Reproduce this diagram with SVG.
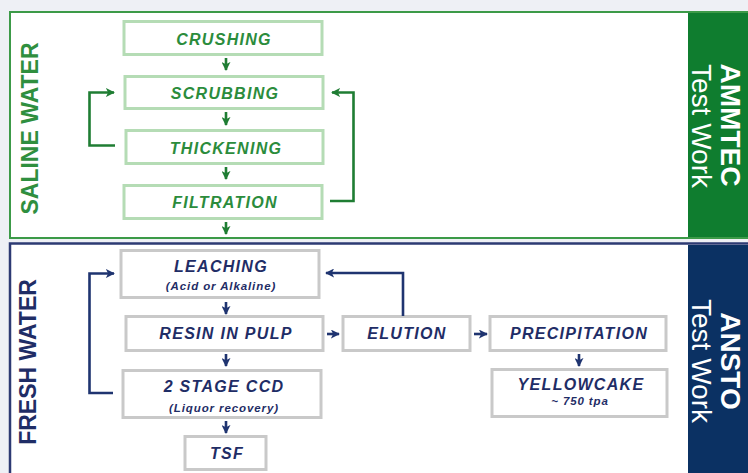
<svg xmlns="http://www.w3.org/2000/svg" width="748" height="473" viewBox="0 0 748 473">
<style>
  text { font-family: "Liberation Sans", Arial, sans-serif; }
  .box-g { fill: #ffffff; stroke: #b5dcb5; stroke-width: 3; }
  .box-n { fill: #ffffff; stroke: #c9c9c9; stroke-width: 3; }
  .t-g { fill: #2b8c3c; font-size: 16px; font-weight: bold; font-style: italic; letter-spacing: 1.3px; text-anchor: middle; }
  .t-n { fill: #1f2d66; font-size: 16px; font-weight: bold; font-style: italic; letter-spacing: 1.3px; text-anchor: middle; }
  .s-n { fill: #1f2d66; font-size: 11.5px; font-weight: bold; font-style: italic; letter-spacing: 0.9px; text-anchor: middle; }
  .side { font-size: 23px; font-weight: bold; text-anchor: middle; }
  .band { fill: #ffffff; font-size: 28px; text-anchor: middle; }
  .c-g { fill: none; stroke: #1f7d33; stroke-width: 2.6; }
  .c-n { fill: none; stroke: #1f3470; stroke-width: 2.6; }
</style>
<defs>
  <marker id="ag" viewBox="0 0 10 10" refX="9" refY="5" markerWidth="9" markerHeight="9" markerUnits="userSpaceOnUse" orient="auto">
    <path d="M0,0 L10,5 L0,10 L2.5,5 z" fill="#1f7d33"/>
  </marker>
  <marker id="an" viewBox="0 0 10 10" refX="9" refY="5" markerWidth="9" markerHeight="9" markerUnits="userSpaceOnUse" orient="auto">
    <path d="M0,0 L10,5 L0,10 L2.5,5 z" fill="#1f3470"/>
  </marker>
</defs>

<rect x="0" y="0" width="748" height="473" fill="#eef0f5"/>

<!-- Top panel -->
<g id="panel-saline">
  <rect x="10" y="12" width="740" height="226" fill="#ffffff" stroke="#3c9a48" stroke-width="2"/>
  <rect x="688" y="13" width="60" height="224" fill="#0f7d2f"/>
  <text class="side" fill="#2f8f3f" transform="translate(38,128.5) rotate(-90)">SALINE WATER</text>
  <text class="band" transform="translate(721,125) rotate(90)" font-weight="bold">AMMTEC</text>
  <text class="band" transform="translate(692,126) rotate(90)">Test Work</text>
</g>

<!-- Bottom panel -->
<g id="panel-fresh">
  <rect x="10" y="243.5" width="740" height="235" fill="#ffffff" stroke="#2d3a73" stroke-width="2.5"/>
  <rect x="688" y="245" width="60" height="228" fill="#0b3163"/>
  <text class="side" fill="#1f2d66" transform="translate(36,362) rotate(-90)">FRESH WATER</text>
  <text class="band" transform="translate(721,361) rotate(90)" font-weight="bold">ANSTO</text>
  <text class="band" transform="translate(692,361) rotate(90)">Test Work</text>
</g>

<!-- Top nodes -->
<g id="crushing">
  <rect class="box-g" x="124" y="21.5" width="198" height="33"/>
  <text class="t-g" x="224" y="44.5">CRUSHING</text>
</g>
<g id="scrubbing">
  <rect class="box-g" x="125" y="76.5" width="198" height="32"/>
  <text class="t-g" x="225" y="99">SCRUBBING</text>
</g>
<g id="thickening">
  <rect class="box-g" x="126" y="130.5" width="197" height="33"/>
  <text class="t-g" x="226" y="154">THICKENING</text>
</g>
<g id="filtration">
  <rect class="box-g" x="124" y="185.5" width="198" height="33"/>
  <text class="t-g" x="225" y="208">FILTRATION</text>
</g>

<!-- Bottom nodes -->
<g id="leaching">
  <rect class="box-n" x="121" y="250.5" width="198" height="47"/>
  <text class="t-n" x="221" y="271.5">LEACHING</text>
  <text class="s-n" x="221" y="290">(Acid or Alkaline)</text>
</g>
<g id="resin-in-pulp">
  <rect class="box-n" x="126" y="316.5" width="197" height="34"/>
  <text class="t-n" x="226" y="339">RESIN IN PULP</text>
</g>
<g id="elution">
  <rect class="box-n" x="343" y="316.5" width="127" height="34"/>
  <text class="t-n" x="407" y="339">ELUTION</text>
</g>
<g id="precipitation">
  <rect class="box-n" x="490" y="316.5" width="176" height="34"/>
  <text class="t-n" x="579" y="339">PRECIPITATION</text>
</g>
<g id="yellowcake">
  <rect class="box-n" x="492" y="369.5" width="175" height="47"/>
  <text class="t-n" x="581" y="390">YELLOWCAKE</text>
  <text class="s-n" x="580" y="405">~ 750 tpa</text>
</g>
<g id="two-stage-ccd">
  <rect class="box-n" x="123" y="370.5" width="198" height="47"/>
  <text class="t-n" x="224" y="392">2 STAGE CCD</text>
  <text class="s-n" x="224" y="412">(Liquor recovery)</text>
</g>
<g id="tsf">
  <rect class="box-n" x="185" y="436.5" width="81" height="33"/>
  <text class="t-n" x="227" y="459">TSF</text>
</g>

<!-- Connectors -->
<g id="connectors">
  <line class="c-g" x1="226" y1="58" x2="226" y2="70" marker-end="url(#ag)"/>
  <line class="c-g" x1="226" y1="112" x2="226" y2="125" marker-end="url(#ag)"/>
  <line class="c-g" x1="226" y1="167" x2="226" y2="179" marker-end="url(#ag)"/>
  <line class="c-g" x1="226" y1="222" x2="226" y2="234" marker-end="url(#ag)"/>
  <path class="c-g" d="M115,145.5 H89.5 V92.5 H114" marker-end="url(#ag)"/>
  <path class="c-g" d="M330,201 H353.5 V92.5 H332" marker-end="url(#ag)"/>

  <line class="c-n" x1="226" y1="302" x2="226" y2="314" marker-end="url(#an)"/>
  <line class="c-n" x1="226" y1="354" x2="226" y2="366" marker-end="url(#an)"/>
  <line class="c-n" x1="226" y1="421" x2="226" y2="433" marker-end="url(#an)"/>
  <line class="c-n" x1="327" y1="334" x2="339" y2="334" marker-end="url(#an)"/>
  <line class="c-n" x1="474" y1="334" x2="487" y2="334" marker-end="url(#an)"/>
  <line class="c-n" x1="579" y1="354" x2="579" y2="366" marker-end="url(#an)"/>
  <path class="c-n" d="M113,393 H89.5 V273.5 H114" marker-end="url(#an)"/>
  <path class="c-n" d="M403,316 V273 H326" marker-end="url(#an)"/>
</g>
</svg>
